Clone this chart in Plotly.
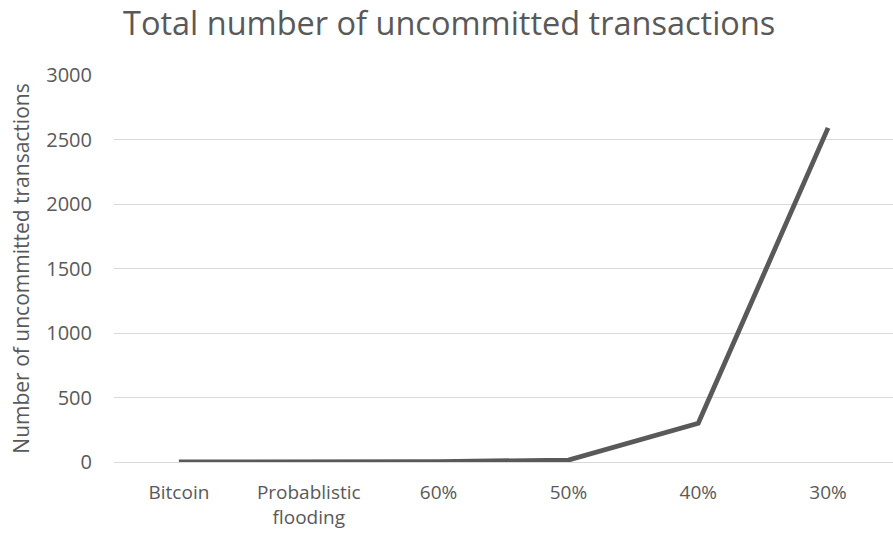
import plotly.graph_objects as go

categories = ["Bitcoin", "Probablistic<br>flooding", "60%", "50%", "40%", "30%"]
values = [0, 0, 3, 15, 300, 2590]
y_ticks = [0, 500, 1000, 1500, 2000, 2500, 3000]

fig = go.Figure()
fig.add_trace(go.Scatter(
    x=categories, y=values, mode="lines",
    line=dict(color="#595959", width=4.8),
    hoverinfo="skip", showlegend=False,
))

fig.update_layout(
    width=893, height=535,
    paper_bgcolor="white", plot_bgcolor="white",
    margin=dict(l=114, r=0, t=75, b=73),
    font=dict(family="Open Sans", color="#595959", size=19),
    title=dict(text="Total number of uncommitted transactions",
               x=0.503, xanchor="center", y=0.955, yanchor="middle",
               font=dict(size=32.5, color="#595959")),
)
fig.update_xaxes(
    type="category", range=[-0.5, 5.5], showgrid=False, showline=False, ticks="",
    tickfont=dict(size=19, color="#595959"), ticklabelstandoff=17,
)
fig.update_yaxes(
    range=[0, 3000], tickvals=y_ticks, showgrid=True, gridcolor="#d9d9d9",
    gridwidth=1, zeroline=True, zerolinecolor="#d9d9d9", zerolinewidth=1,
    ticks="", tickfont=dict(size=20, color="#595959"), ticklabelstandoff=21,
    title=dict(text="Number of uncommitted transactions",
               font=dict(size=21, color="#595959"), standoff=10),
)
fig.write_html("out.html")
